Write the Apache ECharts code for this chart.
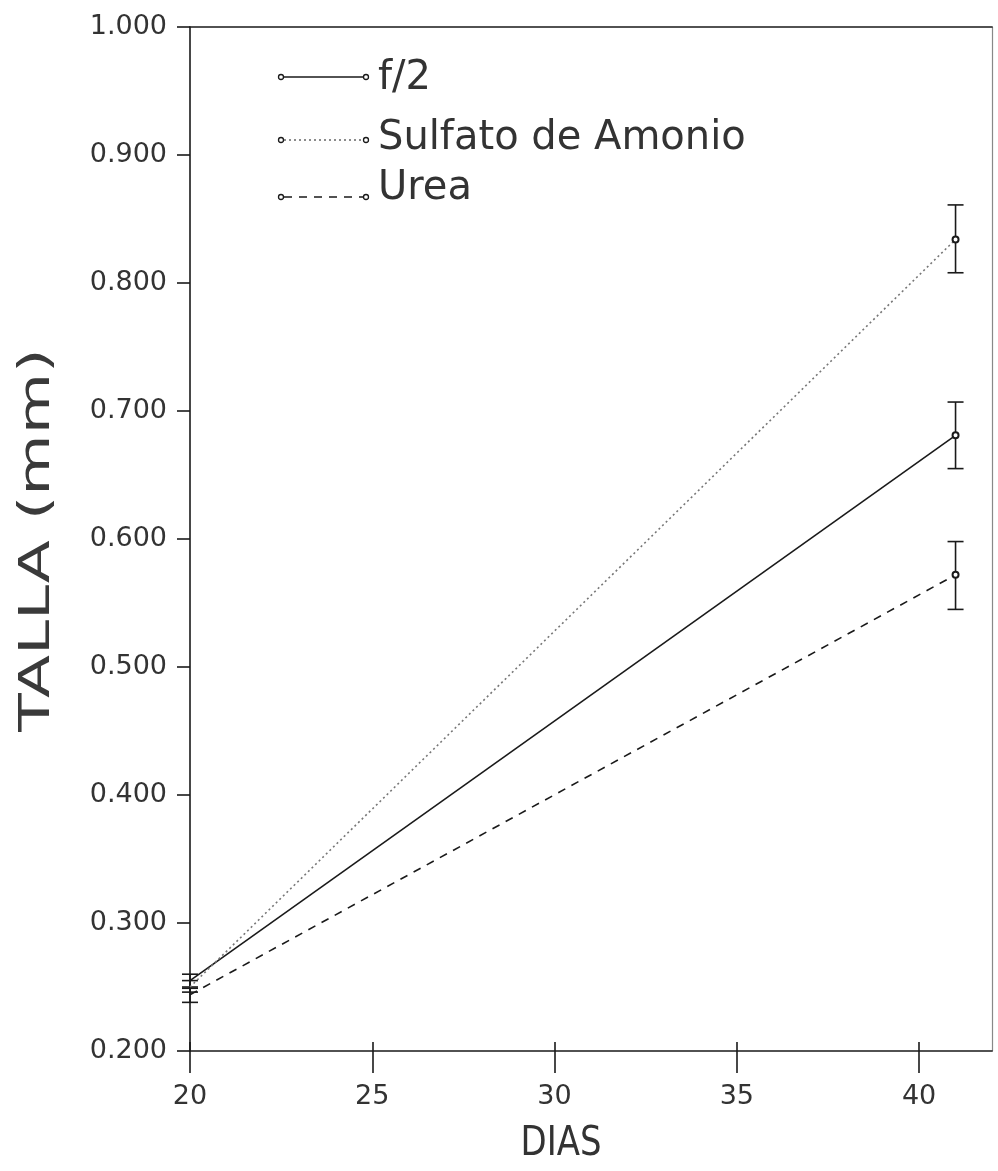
<!DOCTYPE html>
<html>
<head>
<meta charset="utf-8">
<script src="https://cdn.jsdelivr.net/npm/echarts@6/dist/echarts.min.js"></script>
<style>html,body{margin:0;padding:0;background:#fff;}#c{width:998px;height:1171px;}</style>
</head>
<body>
<div id="c"></div>
<script>
// ---- data ----
var days = [20, 41];
var seriesNames = ['f/2', 'Sulfato de Amonio', 'Urea'];
var f2 = [0.255, 0.681];
var f2Low = [0.250, 0.655];
var f2High = [0.260, 0.707];
var sulfato = [0.250, 0.834];
var sulfatoLow = [0.246, 0.808];
var sulfatoHigh = [0.255, 0.861];
var urea = [0.244, 0.572];
var ureaLow = [0.238, 0.545];
var ureaHigh = [0.249, 0.598];
var xTicks = [20, 25, 30, 35, 40];
var yTicks = [0.2, 0.3, 0.4, 0.5, 0.6, 0.7, 0.8, 0.9, 1.0];

function pairs(xs, ys) {
  return xs.map(function (x, i) {
    return i === 0 ? { value: [x, ys[i]], symbol: 'none' } : { value: [x, ys[i]] };
  });
}
function errData(xs, lo, hi) { return xs.map(function (x, i) { return [x, lo[i], hi[i]]; }); }

var ink = '#1a1a1a';
function errSeries(lo, hi) {
  return {
    type: 'custom',
    data: errData(days, lo, hi),
    z: 3,
    renderItem: function (params, api) {
      var x = api.value(0);
      var pLo = api.coord([x, api.value(1)]);
      var pHi = api.coord([x, api.value(2)]);
      var hw = 8;
      var st = { stroke: ink, lineWidth: 1.6 };
      return {
        type: 'group',
        children: [
          { type: 'line', shape: { x1: pLo[0], y1: pLo[1], x2: pHi[0], y2: pHi[1] }, style: st },
          { type: 'line', shape: { x1: pLo[0] - hw, y1: pLo[1], x2: pLo[0] + hw, y2: pLo[1] }, style: st },
          { type: 'line', shape: { x1: pHi[0] - hw, y1: pHi[1], x2: pHi[0] + hw, y2: pHi[1] }, style: st }
        ]
      };
    }
  };
}

function lineSeries(name, vals, type, color) {
  return {
    name: name, type: 'line', data: pairs(days, vals),
    symbol: 'emptyCircle', symbolSize: 6, showSymbol: true,
    lineStyle: { color: color, width: 1.6, type: type },
    itemStyle: { color: ink, borderColor: ink, borderWidth: 1.3 },
    z: 4
  };
}

var chart = echarts.init(document.getElementById('c'));
var font = 'DejaVu Sans';
var lblColor = '#333';

// legend drawn as graphics
var legendLineY = [77, 140, 197];
var legendTextY = [79, 139, 189];
var legendTypes = ['solid', [2, 3], [8, 7]];
var legendColors = [ink, '#666', ink];
var graphics = [];
seriesNames.forEach(function (n, i) {
  var y = legendLineY[i];
  graphics.push({ type: 'line', shape: { x1: 284, y1: y, x2: 363, y2: y }, style: { stroke: legendColors[i], lineWidth: 1.6, lineDash: legendTypes[i] === 'solid' ? null : legendTypes[i] } });
  graphics.push({ type: 'circle', shape: { cx: 281, cy: y, r: 2.5 }, style: { fill: '#fff', stroke: ink, lineWidth: 1.3 } });
  graphics.push({ type: 'circle', shape: { cx: 366, cy: y, r: 2.5 }, style: { fill: '#fff', stroke: ink, lineWidth: 1.3 } });
  graphics.push({ type: 'text', x: 378, y: legendTextY[i], style: { text: n, font: '40px "DejaVu Sans"', fill: lblColor, verticalAlign: 'middle', textAlign: 'left' } });
});
graphics.push({ type: 'text', x: 561, y: 1145, scaleX: 0.85, style: { text: 'DIAS', font: '40px "DejaVu Sans"', fill: lblColor, textAlign: 'center', verticalAlign: 'middle' } });
graphics.push({ type: 'text', x: 38, y: 540, rotation: Math.PI / 2, scaleX: 1.5, style: { text: 'TALLA (mm)', font: '42px "DejaVu Sans"', fill: '#3a3a3a', textAlign: 'center', verticalAlign: 'middle' } });

chart.setOption({
  animation: false,
  backgroundColor: '#fff',
  grid: { left: 190, right: 6, top: 27, bottom: 120 },
  xAxis: [{
    type: 'value', min: 20, max: 42, interval: 5,
    axisLine: { lineStyle: { color: ink, width: 1.6 } },
    axisTick: { length: 22, customValues: xTicks, lineStyle: { color: ink, width: 1.6 } },
    axisLabel: { color: lblColor, fontSize: 27, fontFamily: font, margin: 32, customValues: xTicks },
    splitLine: { show: false }
  }, {
    type: 'value', min: 20, max: 42, interval: 5, position: 'bottom',
    axisLine: { show: false },
    axisTick: { inside: true, length: 9, customValues: xTicks, lineStyle: { color: ink, width: 1.6 } },
    axisLabel: { show: false }, splitLine: { show: false }
  }, {
    type: 'value', min: 20, max: 42, position: 'top',
    axisLine: { lineStyle: { color: ink, width: 1.6 } },
    axisTick: { show: false }, axisLabel: { show: false }, splitLine: { show: false }
  }],
  yAxis: [{
    type: 'value', min: 0.2, max: 1.0, interval: 0.1,
    axisLine: { show: true, lineStyle: { color: ink, width: 1.6 } },
    axisTick: { show: true, length: 13, lineStyle: { color: ink, width: 1.6 } },
    axisLabel: { color: lblColor, fontSize: 27, fontFamily: font, margin: 23,
      formatter: function (v) { return v.toFixed(3); } },
    splitLine: { show: false }
  }, {
    type: 'value', min: 0.2, max: 1.0, position: 'right',
    axisLine: { show: true, lineStyle: { color: '#888', width: 1.2 } },
    axisTick: { show: false }, axisLabel: { show: false }, splitLine: { show: false }
  }],
  series: [
    lineSeries(seriesNames[0], f2, 'solid', ink),
    lineSeries(seriesNames[1], sulfato, [2, 3], '#777'),
    lineSeries(seriesNames[2], urea, [8, 7], ink),
    errSeries(f2Low, f2High),
    errSeries(sulfatoLow, sulfatoHigh),
    errSeries(ureaLow, ureaHigh)
  ],
  graphic: graphics
});
</script>
</body>
</html>
